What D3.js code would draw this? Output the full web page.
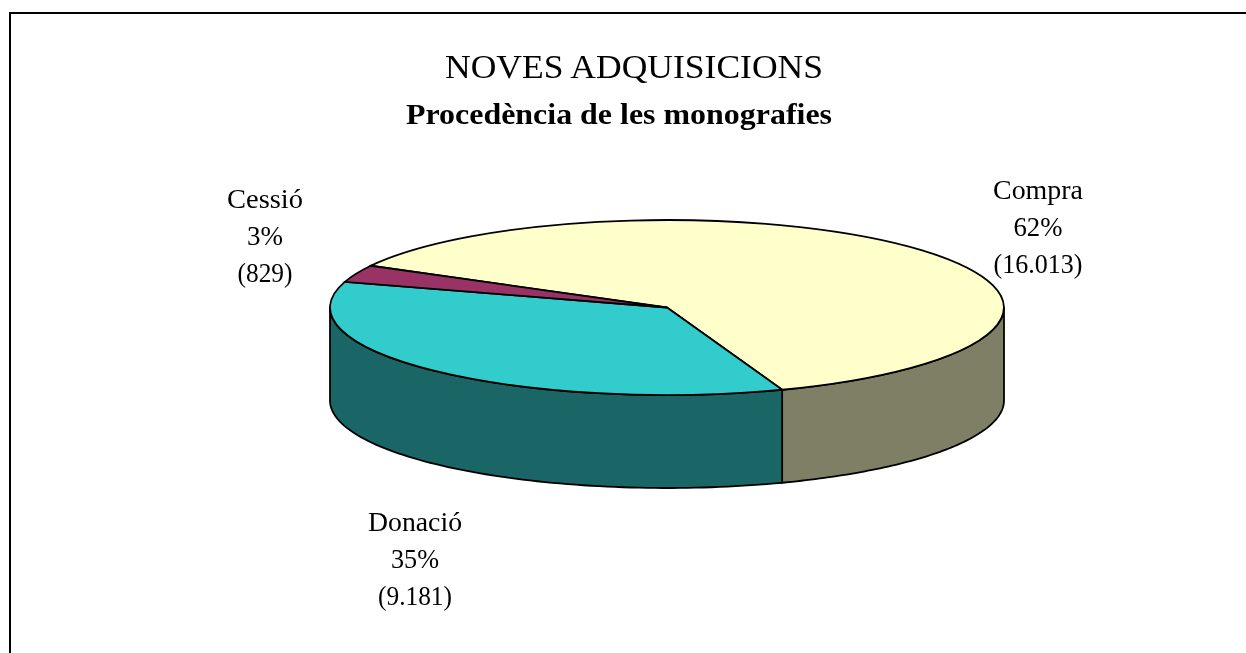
<!DOCTYPE html>
<html>
<head>
<meta charset="utf-8">
<script src="https://cdn.jsdelivr.net/npm/d3@7"></script>
<style>
  html, body { margin: 0; padding: 0; background: #fff; overflow: hidden; }
  svg { display: block; }
  text { font-family: "Liberation Serif", serif; fill: #000; text-anchor: middle; }
  .blurry { filter: blur(0.6px); }
</style>
</head>
<body>
<div class="chart"></div>
<script>
var categories = ["Compra", "Donació", "Cessió"];
var values = [16013, 9181, 829];
var percentLabels = ["62%", "35%", "3%"];
var countLabels = ["(16.013)", "(9.181)", "(829)"];
var topColors = ["#ffffcc", "#33cccc", "#993366"];
var sideColors = ["#7f7f66", "#1a6666", "#4d1a33"];

var svgWidth = 1246;
var svgHeight = 653;

var cx = 667, cy = 307.5, rx = 337, ry = 87.5, depth = 93;
var startAngle = -61.5 * Math.PI / 180;

var svg = d3.select(".chart").append("svg")
  .attr("width", svgWidth)
  .attr("height", svgHeight);

// frame
svg.append("rect")
  .attr("x", 10).attr("y", 13)
  .attr("width", 1240).attr("height", 660)
  .attr("fill", "#fff").attr("stroke", "#000").attr("stroke-width", 2);

var pie = d3.pie().sort(null).startAngle(startAngle).endAngle(startAngle + 2 * Math.PI);
var slices = pie(values);

// px,py for an angle measured clockwise from the top of the ellipse
function px(a) { return cx + rx * Math.sin(a); }
function py(a) { return cy - ry * Math.cos(a); }

var chart = svg.append("g").attr("class", "blurry");

// side walls: only the front half of the ellipse (90deg to 270deg) is visible
var wallLine = d3.line();
slices.forEach(function(s, i) {
  var a0 = Math.max(s.startAngle, Math.PI / 2);
  var a1 = Math.min(s.endAngle, 3 * Math.PI / 2);
  if (a1 <= a0) return;
  var n = 80, top = [], bottom = [];
  d3.range(n + 1).forEach(function(k) {
    var a = a0 + (a1 - a0) * k / n;
    top.push([px(a), py(a)]);
    bottom.unshift([px(a), py(a) + depth]);
  });
  chart.append("path")
    .attr("d", wallLine(top.concat(bottom)) + "Z")
    .attr("fill", sideColors[i])
    .attr("stroke", "#000")
    .attr("stroke-width", 1.8)
    .attr("stroke-linejoin", "round");
});

// top of the pie, unit arcs squashed to an ellipse
var arc = d3.arc().innerRadius(0).outerRadius(1);
chart.append("g")
  .attr("transform", "translate(" + cx + "," + cy + ") scale(" + rx + "," + ry + ")")
  .selectAll("path")
  .data(slices)
  .enter()
  .append("path")
  .attr("d", arc)
  .attr("fill", function(d, i) { return topColors[i]; })
  .attr("stroke", "#000")
  .attr("stroke-width", 1.8)
  .attr("vector-effect", "non-scaling-stroke");

// titles
var titles = svg.append("g").attr("class", "blurry");
titles.append("text").attr("x", 634).attr("y", 78)
  .attr("font-size", 34).attr("textLength", 378).attr("lengthAdjust", "spacingAndGlyphs")
  .text("NOVES ADQUISICIONS");
titles.append("text").attr("x", 619).attr("y", 124)
  .attr("font-size", 30).attr("font-weight", "bold")
  .attr("textLength", 426).attr("lengthAdjust", "spacingAndGlyphs")
  .text("Procedència de les monografies");

var labelX = [1038, 415, 265];
var labelY = [199, 531, 208];
var lineStep = 37;
var nameWidth = [90, 94, 76];
var percentWidth = [49, 48, 36];
var countWidth = [89, 74, 55];
categories.forEach(function(c, i) {
  var g = svg.append("g").attr("class", "blurry").attr("font-size", 27);
  g.append("text").attr("x", labelX[i]).attr("y", labelY[i])
    .attr("textLength", nameWidth[i]).attr("lengthAdjust", "spacingAndGlyphs").text(c);
  g.append("text").attr("x", labelX[i]).attr("y", labelY[i] + lineStep)
    .attr("textLength", percentWidth[i]).attr("lengthAdjust", "spacingAndGlyphs").text(percentLabels[i]);
  g.append("text").attr("x", labelX[i]).attr("y", labelY[i] + 2 * lineStep)
    .attr("textLength", countWidth[i]).attr("lengthAdjust", "spacingAndGlyphs").text(countLabels[i]);
});
</script>
</body>
</html>
